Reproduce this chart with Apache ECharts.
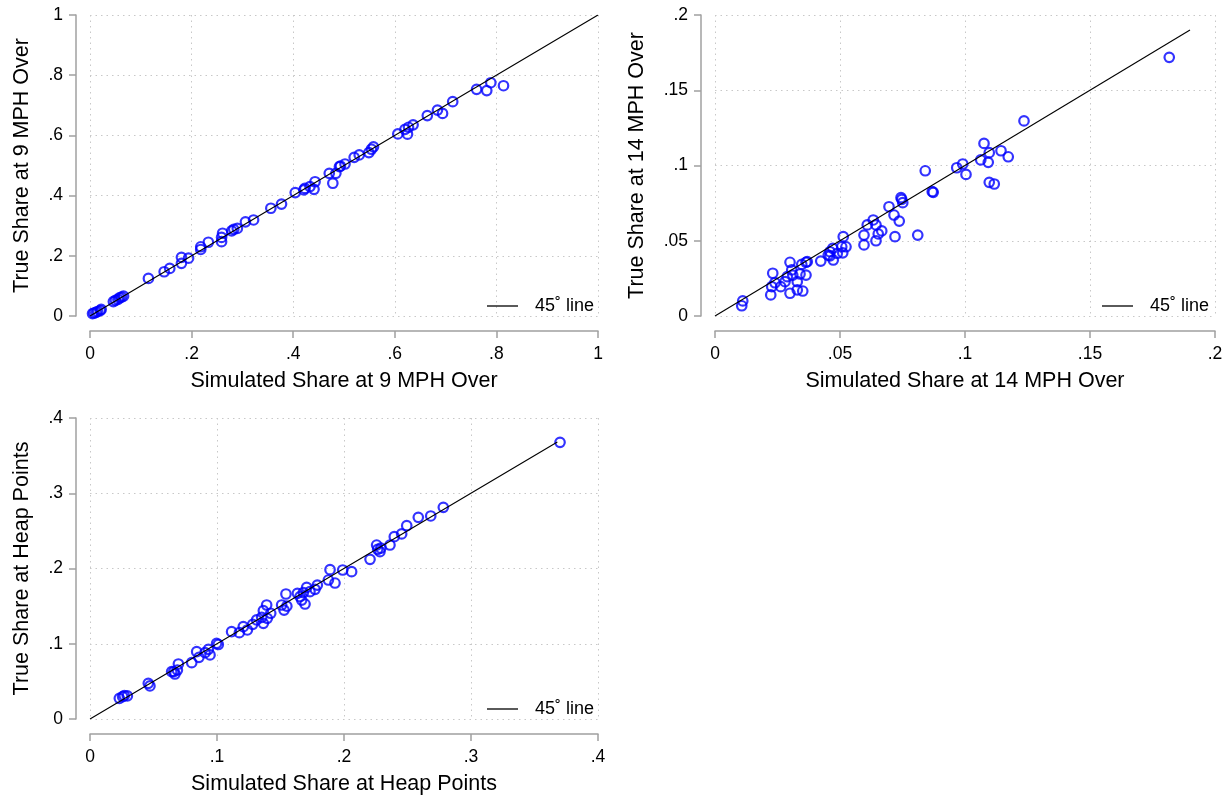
<!DOCTYPE html>
<html>
<head>
<meta charset="utf-8">
<script src="https://cdn.jsdelivr.net/npm/echarts@6/dist/echarts.min.js"></script>
<style>
html,body{margin:0;padding:0;background:#fff;}
#chart{width:1231px;height:799px;}
</style>
</head>
<body>
<div id="chart"></div>
<script>
// ---- Panel 1: 9 MPH over ----
const x9 = [0.005,0.008,0.012,0.015,0.02,0.022,0.046,0.05,0.055,0.058,0.062,0.066,0.115,0.146,0.157,0.18,0.18,0.194,0.218,0.218,0.233,0.259,0.259,0.261,0.279,0.283,0.29,0.306,0.322,0.356,0.377,0.404,0.421,0.423,0.433,0.443,0.441,0.471,0.478,0.484,0.491,0.493,0.502,0.52,0.53,0.549,0.554,0.558,0.606,0.62,0.627,0.625,0.636,0.664,0.684,0.694,0.714,0.761,0.781,0.789,0.814];
const y9 = [0.008,0.01,0.012,0.015,0.018,0.022,0.048,0.052,0.055,0.06,0.063,0.066,0.125,0.147,0.158,0.175,0.195,0.192,0.221,0.23,0.245,0.247,0.261,0.275,0.283,0.288,0.291,0.313,0.319,0.358,0.372,0.41,0.419,0.424,0.43,0.446,0.421,0.474,0.441,0.474,0.496,0.498,0.505,0.527,0.535,0.543,0.554,0.562,0.605,0.62,0.627,0.604,0.635,0.666,0.684,0.673,0.712,0.753,0.749,0.775,0.765];
// ---- Panel 2: 14 MPH over ----
const x14 = [0.0111,0.0107,0.0223,0.0227,0.0231,0.024,0.0263,0.028,0.0289,0.03,0.03,0.0307,0.0311,0.0329,0.0329,0.034,0.0347,0.0351,0.0364,0.0364,0.0369,0.0423,0.0453,0.046,0.0471,0.0473,0.046,0.0489,0.0507,0.0511,0.0524,0.0513,0.0596,0.0596,0.0609,0.0633,0.0644,0.0644,0.0653,0.0667,0.0696,0.0716,0.072,0.0737,0.0744,0.0751,0.0747,0.0811,0.0841,0.0869,0.0873,0.0967,0.0991,0.1004,0.1063,0.1076,0.1097,0.1093,0.1097,0.1117,0.1144,0.1173,0.1236,0.1817];
const y14 = [0.01,0.0068,0.014,0.0195,0.0284,0.0221,0.0195,0.0228,0.0261,0.0357,0.0151,0.0306,0.0272,0.0228,0.0173,0.0279,0.0343,0.0166,0.0272,0.0357,0.0361,0.0365,0.0405,0.0427,0.045,0.0372,0.04,0.0416,0.046,0.042,0.046,0.0527,0.0472,0.0538,0.0605,0.0638,0.0605,0.05,0.0545,0.0565,0.0726,0.0671,0.0527,0.0631,0.0786,0.0753,0.0775,0.0538,0.0965,0.0826,0.0822,0.0985,0.101,0.0941,0.1037,0.1147,0.1085,0.1021,0.0888,0.0877,0.1098,0.1058,0.1296,0.1719];
// ---- Panel 3: heap points ----
const xHeap = [0.0231,0.0257,0.027,0.0294,0.0459,0.0472,0.0643,0.066,0.0669,0.0688,0.0696,0.0801,0.084,0.0858,0.0906,0.0932,0.0945,0.0997,0.101,0.1115,0.1176,0.1207,0.1239,0.1281,0.1312,0.1352,0.1365,0.1365,0.1391,0.1396,0.1423,0.1509,0.1528,0.1543,0.155,0.1633,0.1654,0.1667,0.1693,0.1706,0.168,0.1732,0.1772,0.179,0.1877,0.189,0.1929,0.199,0.206,0.2205,0.2257,0.2265,0.2283,0.229,0.2362,0.2396,0.2454,0.2494,0.2585,0.2683,0.2782,0.3701];
const yHeap = [0.0275,0.0297,0.031,0.0306,0.0474,0.0439,0.0629,0.063,0.0598,0.0651,0.0731,0.0749,0.0895,0.082,0.0882,0.0926,0.0851,0.1006,0.099,0.116,0.1147,0.1227,0.1183,0.1258,0.1316,0.1351,0.144,0.1271,0.1515,0.1338,0.1405,0.1515,0.1448,0.1661,0.15,0.167,0.1625,0.1581,0.1528,0.175,0.168,0.1692,0.1723,0.178,0.1847,0.1985,0.1807,0.198,0.1958,0.2122,0.2312,0.2255,0.2223,0.227,0.2312,0.2423,0.2459,0.2569,0.268,0.2698,0.2813,0.3677];
// 45-degree line extents
const line9 = [0, 1];
const line14 = [0, 0.19];
const lineHeap = [0, 0.368];
// axis ranges
const axis9 = {min: 0, max: 1, interval: 0.2};
const axis14 = {min: 0, max: 0.2, interval: 0.05};
const axisHeap = {min: 0, max: 0.4, interval: 0.1};
const xTitles = ['Simulated Share at 9 MPH Over', 'Simulated Share at 14 MPH Over', 'Simulated Share at Heap Points'];
const yTitles = ['True Share at 9 MPH Over', 'True Share at 14 MPH Over', 'True Share at Heap Points'];
const lineName = '45\u02DA line';

const FONT = "'Liberation Sans', Arial, Helvetica, sans-serif";
const fmt = v => {
  const s = String(Number(v.toFixed(4)));
  return s.replace(/^0\./, '.');
};
const zip = (a, b) => a.map((v, i) => [v, b[i]]);

function axisBase(rng, isX, title, gap) {
  return {
    type: 'value', min: rng.min, max: rng.max, interval: rng.interval,
    offset: isX ? 15 : 14,
    name: title, nameLocation: 'middle', nameGap: gap,
    nameTextStyle: {fontFamily: FONT, fontSize: 21.5, color: '#000'},
    axisLine: {show: true, onZero: false, lineStyle: {color: '#a0a0a0', width: 1.5}},
    axisTick: {show: true, length: 7, lineStyle: {color: '#a0a0a0', width: 1.5}},
    axisLabel: {fontFamily: FONT, fontSize: 17.5, color: '#000', margin: isX ? 14 : 13, formatter: fmt},
    splitLine: {show: true, lineStyle: {color: '#c8c8c8', width: 1, type: [1.5, 4]}}
  };
}

const grids = [
  {left: 90, top: 15, width: 508, height: 301},
  {left: 715, top: 15, width: 500, height: 301},
  {left: 90, top: 418, width: 508, height: 301}
];
const ranges = [axis9, axis14, axisHeap];
const yGaps = [43, 53, 43];

const xAxes = ranges.map((r, i) => Object.assign(axisBase(r, true, xTitles[i], 39), {gridIndex: i}));
const yAxes = ranges.map((r, i) => Object.assign(axisBase(r, false, yTitles[i], yGaps[i]), {gridIndex: i}));

const scatterData = [zip(x9, y9), zip(x14, y14), zip(xHeap, yHeap)];
const lineData = [zip(line9, line9), zip(line14, line14), zip(lineHeap, lineHeap)];

const series = [];
for (let i = 0; i < 3; i++) {
  series.push({
    type: 'scatter', xAxisIndex: i, yAxisIndex: i, data: scatterData[i],
    symbol: 'circle', symbolSize: 9.5,
    itemStyle: {color: 'rgba(0,0,0,0)', borderColor: '#0000ff', borderWidth: 2.2},
    silent: true, z: 2
  });
  series.push({
    name: lineName, type: 'line', xAxisIndex: i, yAxisIndex: i, data: lineData[i],
    symbol: 'none', color: '#000', lineStyle: {color: '#000', width: 1.1}, silent: true, z: 3
  });
}

const legendPos = [{left: 482, top: 292}, {left: 1097, top: 292}, {left: 482, top: 695}];
const legends = legendPos.map(p => ({
  left: p.left, top: p.top, data: [lineName], icon: 'rect',
  itemWidth: 31, itemHeight: 1.3, selectedMode: false,
  itemStyle: {color: '#000'},
  textStyle: {fontFamily: FONT, fontSize: 18, color: '#000', padding: [0, 0, 0, 12]}
}));

const chart = echarts.init(document.getElementById('chart'), null, {renderer: 'canvas'});
chart.setOption({
  animation: false,
  backgroundColor: '#fff',
  grid: grids,
  xAxis: xAxes,
  yAxis: yAxes,
  legend: legends,
  series: series
});
</script>
</body>
</html>
